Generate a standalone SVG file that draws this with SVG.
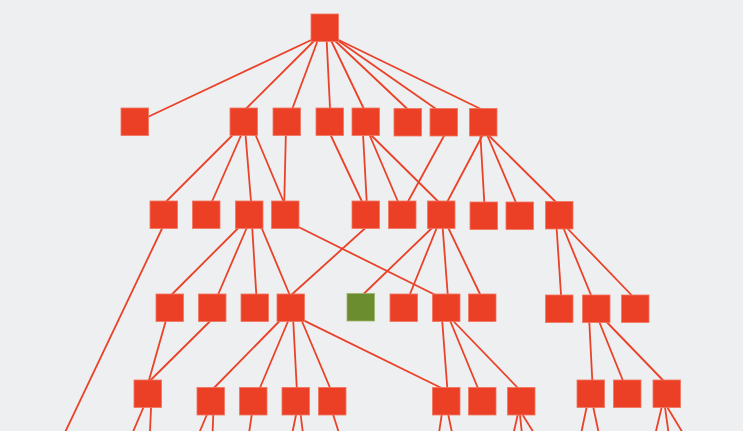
<svg xmlns="http://www.w3.org/2000/svg" width="743" height="431" viewBox="0 0 743 431">
<style>
.bg{fill:#eeeff0}
.e line{stroke:#ea4229;stroke-width:1.8;stroke-linecap:butt}
.n rect{width:27.5px;height:27.5px}
.r{fill:#eb4026;stroke:#f07560;stroke-width:0.8}
.g{fill:#6b8c2f;stroke:#9bb56a;stroke-width:0.8}
</style>
<rect class="bg" x="0" y="0" width="743" height="431"/>
<g id="connectors" class="e">
<line x1="315" y1="38.3" x2="144" y2="118.7"/>
<line x1="318" y1="37" x2="242.7" y2="112"/>
<line x1="319" y1="37" x2="291.1" y2="112"/>
<line x1="326.5" y1="37" x2="330.2" y2="112"/>
<line x1="329.4" y1="37" x2="365.4" y2="112"/>
<line x1="331" y1="37" x2="410.6" y2="112"/>
<line x1="331.6" y1="36" x2="440.4" y2="112"/>
<line x1="328.4" y1="35" x2="487" y2="112"/>
<line x1="235.7" y1="132" x2="162.7" y2="205"/>
<line x1="242.5" y1="132" x2="210.5" y2="205"/>
<line x1="245.3" y1="132" x2="251.3" y2="205"/>
<line x1="254.3" y1="132" x2="285" y2="205"/>
<line x1="285.9" y1="132" x2="284.2" y2="205"/>
<line x1="329.2" y1="132" x2="363.6" y2="205"/>
<line x1="362.9" y1="132" x2="366.9" y2="205"/>
<line x1="368.3" y1="132" x2="399.4" y2="205"/>
<line x1="367.9" y1="132" x2="441.7" y2="205"/>
<line x1="446.1" y1="132" x2="406.1" y2="205"/>
<line x1="484.2" y1="132" x2="445.6" y2="205"/>
<line x1="480.2" y1="132" x2="484.5" y2="206"/>
<line x1="485.9" y1="132" x2="517.4" y2="206"/>
<line x1="485.2" y1="132" x2="558.8" y2="205"/>
<line x1="164.2" y1="224" x2="63.3" y2="436"/>
<line x1="242.3" y1="224" x2="168.3" y2="298"/>
<line x1="248.4" y1="224" x2="216.6" y2="298"/>
<line x1="252" y1="224" x2="256.5" y2="298"/>
<line x1="260" y1="224" x2="291" y2="298"/>
<line x1="293" y1="224.3" x2="437" y2="295.8"/>
<line x1="369.8" y1="224" x2="287.9" y2="298"/>
<line x1="436.1" y1="224" x2="359.4" y2="298"/>
<line x1="438.3" y1="224" x2="408.4" y2="298"/>
<line x1="442.4" y1="224" x2="448" y2="298"/>
<line x1="446.4" y1="224" x2="481.9" y2="298"/>
<line x1="556.4" y1="225" x2="561.3" y2="299"/>
<line x1="562.2" y1="225" x2="592.6" y2="299"/>
<line x1="564.1" y1="225" x2="635.3" y2="299"/>
<line x1="166.9" y1="317" x2="147.9" y2="384"/>
<line x1="214.3" y1="317" x2="146.7" y2="384"/>
<line x1="282.5" y1="318" x2="210" y2="392"/>
<line x1="289.4" y1="318" x2="258.2" y2="392"/>
<line x1="293.1" y1="318" x2="297" y2="392"/>
<line x1="300.6" y1="318" x2="331.8" y2="392"/>
<line x1="298" y1="317.6" x2="444" y2="389.3"/>
<line x1="442" y1="318" x2="447.6" y2="392"/>
<line x1="449" y1="318" x2="479.5" y2="392"/>
<line x1="450.4" y1="318" x2="521.8" y2="392"/>
<line x1="589.1" y1="318" x2="592.5" y2="384"/>
<line x1="597.7" y1="318" x2="624.3" y2="384"/>
<line x1="602.8" y1="318" x2="666.6" y2="384"/>
<line x1="144.9" y1="404" x2="131.2" y2="436"/>
<line x1="151.2" y1="404" x2="149.8" y2="436"/>
<line x1="208.4" y1="411" x2="197.9" y2="436"/>
<line x1="213.4" y1="411" x2="212.5" y2="436"/>
<line x1="252.3" y1="411" x2="248.6" y2="436"/>
<line x1="296.8" y1="411" x2="291.7" y2="436"/>
<line x1="300.2" y1="411" x2="303.3" y2="436"/>
<line x1="332" y1="411" x2="339.9" y2="436"/>
<line x1="442.3" y1="411" x2="438.5" y2="436"/>
<line x1="447.5" y1="411" x2="452.7" y2="436"/>
<line x1="518.6" y1="411" x2="512.9" y2="436"/>
<line x1="519.6" y1="411" x2="522.2" y2="436"/>
<line x1="520.2" y1="411" x2="535.8" y2="436"/>
<line x1="587.5" y1="403" x2="580.6" y2="436"/>
<line x1="592.4" y1="403" x2="599.4" y2="436"/>
<line x1="662.7" y1="403" x2="654.8" y2="436"/>
<line x1="664.4" y1="403" x2="669" y2="436"/>
<line x1="664.7" y1="403" x2="684.7" y2="436"/>
</g>
<g class="n">
<g id="root"><rect class="r" x="311" y="14"/></g>
<g id="n1a"><rect class="r" x="121" y="108"/></g>
<g id="n1b"><rect class="r" x="230" y="108"/></g>
<g id="n1c"><rect class="r" x="273" y="108"/></g>
<g id="n1d"><rect class="r" x="316" y="108"/></g>
<g id="n1e"><rect class="r" x="352" y="108"/></g>
<g id="n1f"><rect class="r" x="394" y="108.5"/></g>
<g id="n1g"><rect class="r" x="430" y="108.5"/></g>
<g id="n1h"><rect class="r" x="469.5" y="108.5"/></g>
<g id="n2a"><rect class="r" x="150" y="201"/></g>
<g id="n2b"><rect class="r" x="192.5" y="201"/></g>
<g id="n2c"><rect class="r" x="235.5" y="201"/></g>
<g id="n2d"><rect class="r" x="271.5" y="201"/></g>
<g id="n2e"><rect class="r" x="352" y="201"/></g>
<g id="n2f"><rect class="r" x="388.5" y="201"/></g>
<g id="n2g"><rect class="r" x="427.5" y="201"/></g>
<g id="n2h"><rect class="r" x="470" y="202"/></g>
<g id="n2i"><rect class="r" x="506" y="202"/></g>
<g id="n2j"><rect class="r" x="545.5" y="201.5"/></g>
<g id="n3a"><rect class="r" x="156" y="294"/></g>
<g id="n3b"><rect class="r" x="198.5" y="294"/></g>
<g id="n3c"><rect class="r" x="241" y="294"/></g>
<g id="n3d"><rect class="r" x="277" y="294"/></g>
<g id="n3e"><rect class="g" x="347" y="293.5"/></g>
<g id="n3f"><rect class="r" x="390" y="294"/></g>
<g id="n3g"><rect class="r" x="432.5" y="294"/></g>
<g id="n3h"><rect class="r" x="468.5" y="294"/></g>
<g id="n3i"><rect class="r" x="545.5" y="295"/></g>
<g id="n3j"><rect class="r" x="582.5" y="295"/></g>
<g id="n3k"><rect class="r" x="621.5" y="295"/></g>
<g id="n4a"><rect class="r" x="134" y="380"/></g>
<g id="n4b"><rect class="r" x="197" y="387.5"/></g>
<g id="n4c"><rect class="r" x="239.5" y="387.5"/></g>
<g id="n4d"><rect class="r" x="282" y="387.5"/></g>
<g id="n4e"><rect class="r" x="318.5" y="387.5"/></g>
<g id="n4f"><rect class="r" x="432.5" y="387.5"/></g>
<g id="n4g"><rect class="r" x="468.5" y="387.5"/></g>
<g id="n4h"><rect class="r" x="507.5" y="387.5"/></g>
<g id="n4i"><rect class="r" x="577" y="380"/></g>
<g id="n4j"><rect class="r" x="613.5" y="380"/></g>
<g id="n4k"><rect class="r" x="653" y="380"/></g>
</g>
</svg>
